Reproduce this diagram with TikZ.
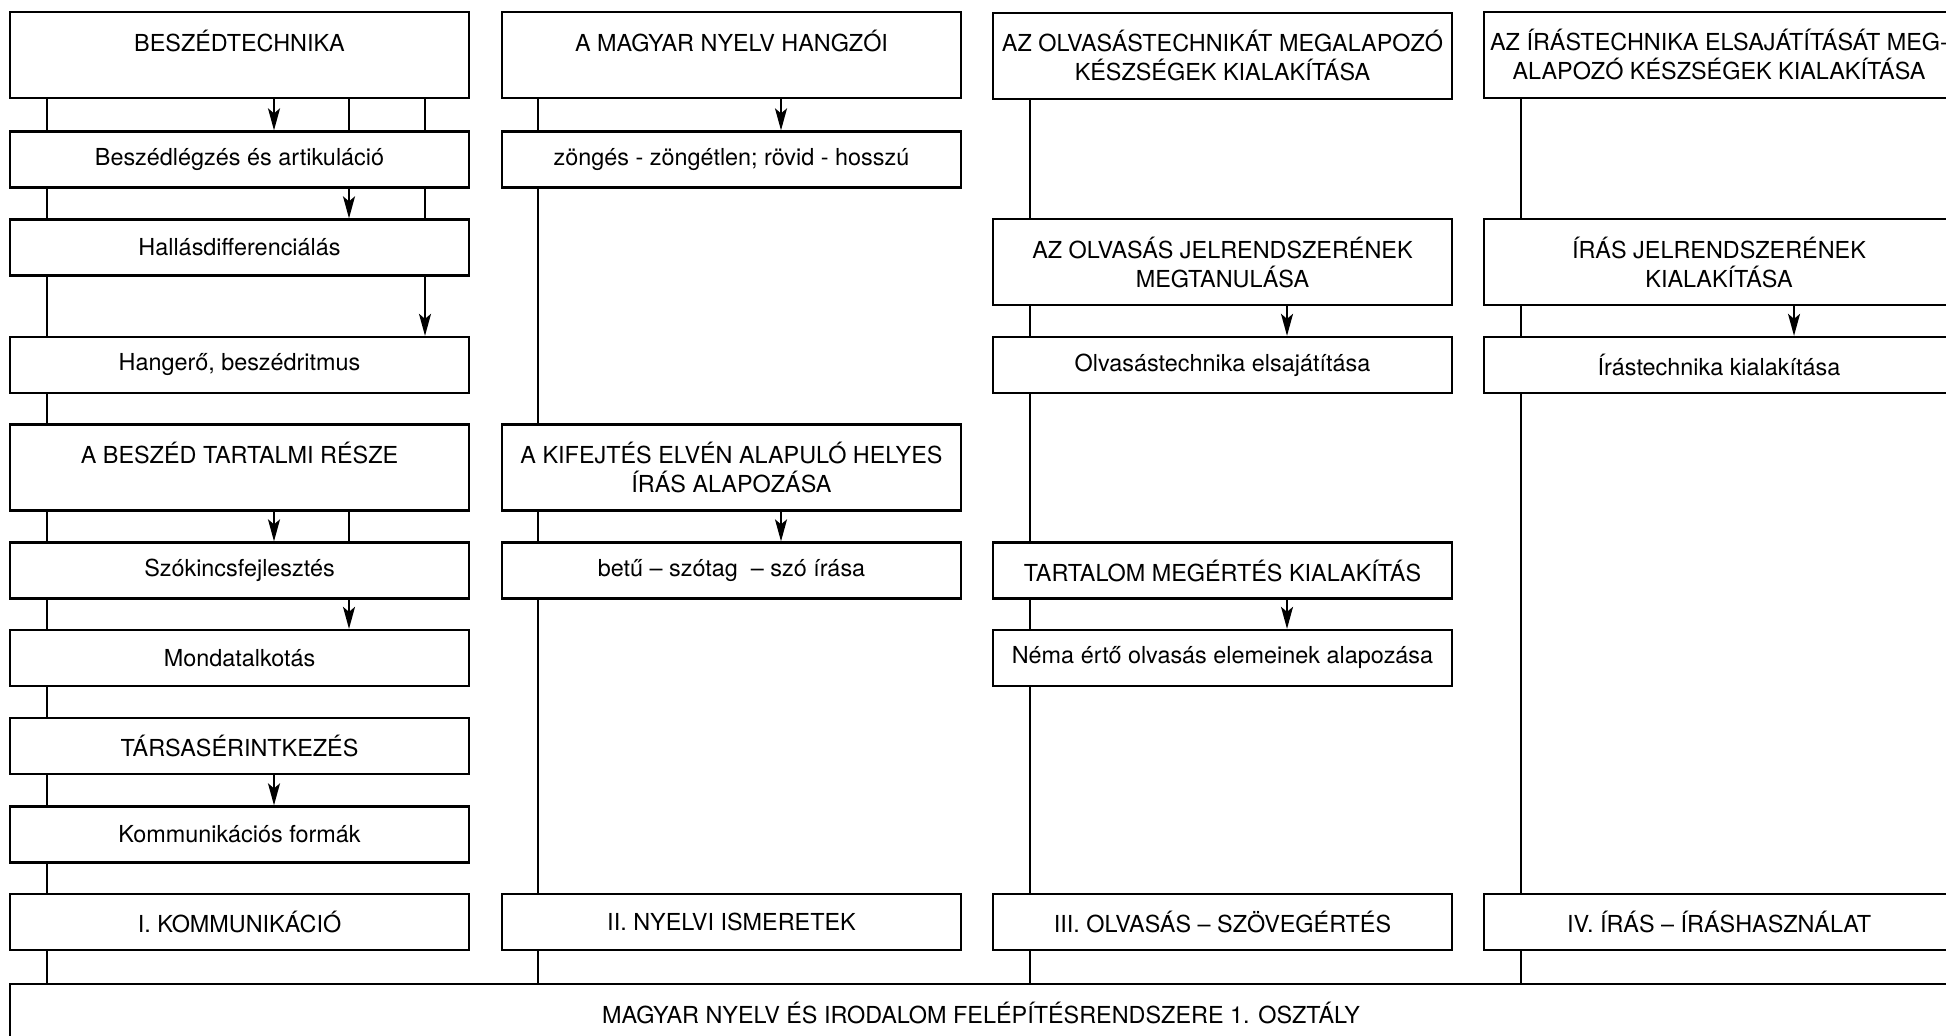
\documentclass[tikz,border=0pt]{standalone}
\usepackage{fontspec}
\setmainfont{TeX Gyre Heros}
\usetikzlibrary{arrows.meta}

\begin{document}
\begin{tikzpicture}[x=0.5pt,y=-0.5pt]

            \tikzstyle{box} = [draw, line width=1.15pt, fill=white, align=center, inner sep=0pt,
                               minimum width=229.5pt, minimum height=28pt,
                               font=\fontsize{11.7}{14.5}\selectfont];
            \tikzstyle{tallbox} = [box, minimum height=43pt];
            \tikzstyle{link} = [line width=0.9pt];
            \tikzstyle{arr} = [link, -{Stealth[length=11pt, width=6pt, inset=2.5pt]}];

            \useasboundingbox (0,0) rectangle (1946,1036);
            \clip (0,0) rectangle (1946,1036);

            \node[tallbox] (tech) at (239.5,55) {BESZÉDTECHNIKA\\ \mbox{}};
            \node[box] (legz) at (239.5,159.5) {Beszédlégzés és artikuláció};
            \node[box] (hall) at (239.5,247.5) {Hallásdifferenciálás};
            \node[box] (hang) at (239.5,365) {Hangerő, beszédritmus};
            \node[tallbox] (tart) at (239.5,467.5) {A BESZÉD TARTALMI RÉSZE\\ \mbox{}};
            \node[box] (szok) at (239.5,570.5) {Szókincsfejlesztés};
            \node[box] (mond) at (239.5,658) {Mondatalkotás};
            \node[box] (tars) at (239.5,746) {TÁRSASÉRINTKEZÉS};
            \node[box] (forma) at (239.5,834.5) {Kommunikációs formák};
            \node[box] (komm) at (239.5,922) {I. KOMMUNIKÁCIÓ};

            \node[tallbox] (hangz) at (731.5,55) {A MAGYAR NYELV HANGZÓI\\ \mbox{}};
            \node[box] (zong) at (731.5,159.5) {zöngés - zöngétlen; rövid - hosszú};
            \node[tallbox] (kif) at (731.5,467.5) {A KIFEJTÉS ELVÉN ALAPULÓ HELYES\\ÍRÁS ALAPOZÁSA};
            \node[box] (betu) at (731.5,570.5) {betű – szótag~ – szó írása};
            \node[box] (nyelv) at (731.5,922) {II. NYELVI ISMERETEK};

            \node[tallbox] (olvk) at (1222.5,56) {AZ OLVASÁSTECHNIKÁT MEGALAPOZÓ\\KÉSZSÉGEK KIALAKÍTÁSA};
            \node[tallbox] (olvj) at (1222.5,262) {AZ OLVASÁS JELRENDSZERÉNEK\\MEGTANULÁSA};
            \node[box] (olvt) at (1222.5,365) {Olvasástechnika elsajátítása};
            \node[box] (megert) at (1222.5,570.5) {TARTALOM MEGÉRTÉS KIALAKÍTÁS};
            \node[box] (nema) at (1222.5,658) {Néma értő olvasás elemeinek alapozása};
            \node[box] (olv) at (1222.5,922) {III. OLVASÁS – SZÖVEGÉRTÉS};

            \node[tallbox, minimum width=235pt] (irk) at (1719,55) {AZ ÍRÁSTECHNIKA ELSAJÁTÍTÁSÁT MEG-\\ALAPOZÓ KÉSZSÉGEK KIALAKÍTÁSA};
            \node[tallbox, minimum width=235pt] (irj) at (1719,262) {ÍRÁS JELRENDSZERÉNEK\\KIALAKÍTÁSA};
            \node[box, minimum width=235pt] (irt) at (1719,365) {Írástechnika kialakítása};
            \node[box, minimum width=235pt] (iras) at (1719,922) {IV. ÍRÁS – ÍRÁSHASZNÁLAT};

            \node[tallbox, minimum width=971pt] (magyar) at (981,1027) {MAGYAR NYELV ÉS IRODALOM FELÉPÍTÉSRENDSZERE 1. OSZTÁLY\\ \mbox{}};

            \coordinate (l1) at (47,0);
            \coordinate (l2) at (538,0);
            \coordinate (l3) at (1030,0);
            \coordinate (l4) at (1521,0);
            \coordinate (p1) at (274,0);
            \coordinate (p2) at (349,0);
            \coordinate (p3) at (425,0);
            \coordinate (p4) at (781,0);
            \coordinate (p5) at (1287,0);
            \coordinate (p6) at (1794,0);

            \foreach \a/\b in {tech/legz, legz/hall, hall/hang, hang/tart, tart/szok, szok/mond, mond/tars, tars/forma, forma/komm, komm/magyar}
              \draw[link] (\a.south -| l1) -- (\b.north -| l1);
            \foreach \a/\b in {hangz/zong, zong/kif, kif/betu, betu/nyelv, nyelv/magyar}
              \draw[link] (\a.south -| l2) -- (\b.north -| l2);
            \foreach \a/\b in {olvk/olvj, olvj/olvt, olvt/megert, megert/nema, nema/olv, olv/magyar}
              \draw[link] (\a.south -| l3) -- (\b.north -| l3);
            \foreach \a/\b in {irk/irj, irj/irt, irt/iras, iras/magyar}
              \draw[link] (\a.south -| l4) -- (\b.north -| l4);

            \draw[link] (tech.south -| p2) -- (legz.north -| p2);
            \draw[link] (tech.south -| p3) -- (legz.north -| p3);
            \draw[link] (legz.south -| p3) -- (hall.north -| p3);
            \draw[link] (tart.south -| p2) -- (szok.north -| p2);

            \draw[arr] (tech.south -| p1) -- (legz.north -| p1);
            \draw[arr] (legz.south -| p2) -- (hall.north -| p2);
            \draw[arr] (hall.south -| p3) -- (hang.north -| p3);
            \draw[arr] (tart.south -| p1) -- (szok.north -| p1);
            \draw[arr] (szok.south -| p2) -- (mond.north -| p2);
            \draw[arr] (tars.south -| p1) -- (forma.north -| p1);
            \draw[arr] (hangz.south -| p4) -- (zong.north -| p4);
            \draw[arr] (kif.south -| p4) -- (betu.north -| p4);
            \draw[arr] (olvj.south -| p5) -- (olvt.north -| p5);
            \draw[arr] (megert.south -| p5) -- (nema.north -| p5);
            \draw[arr] (irj.south -| p6) -- (irt.north -| p6);
          \end{tikzpicture}
\end{document}
